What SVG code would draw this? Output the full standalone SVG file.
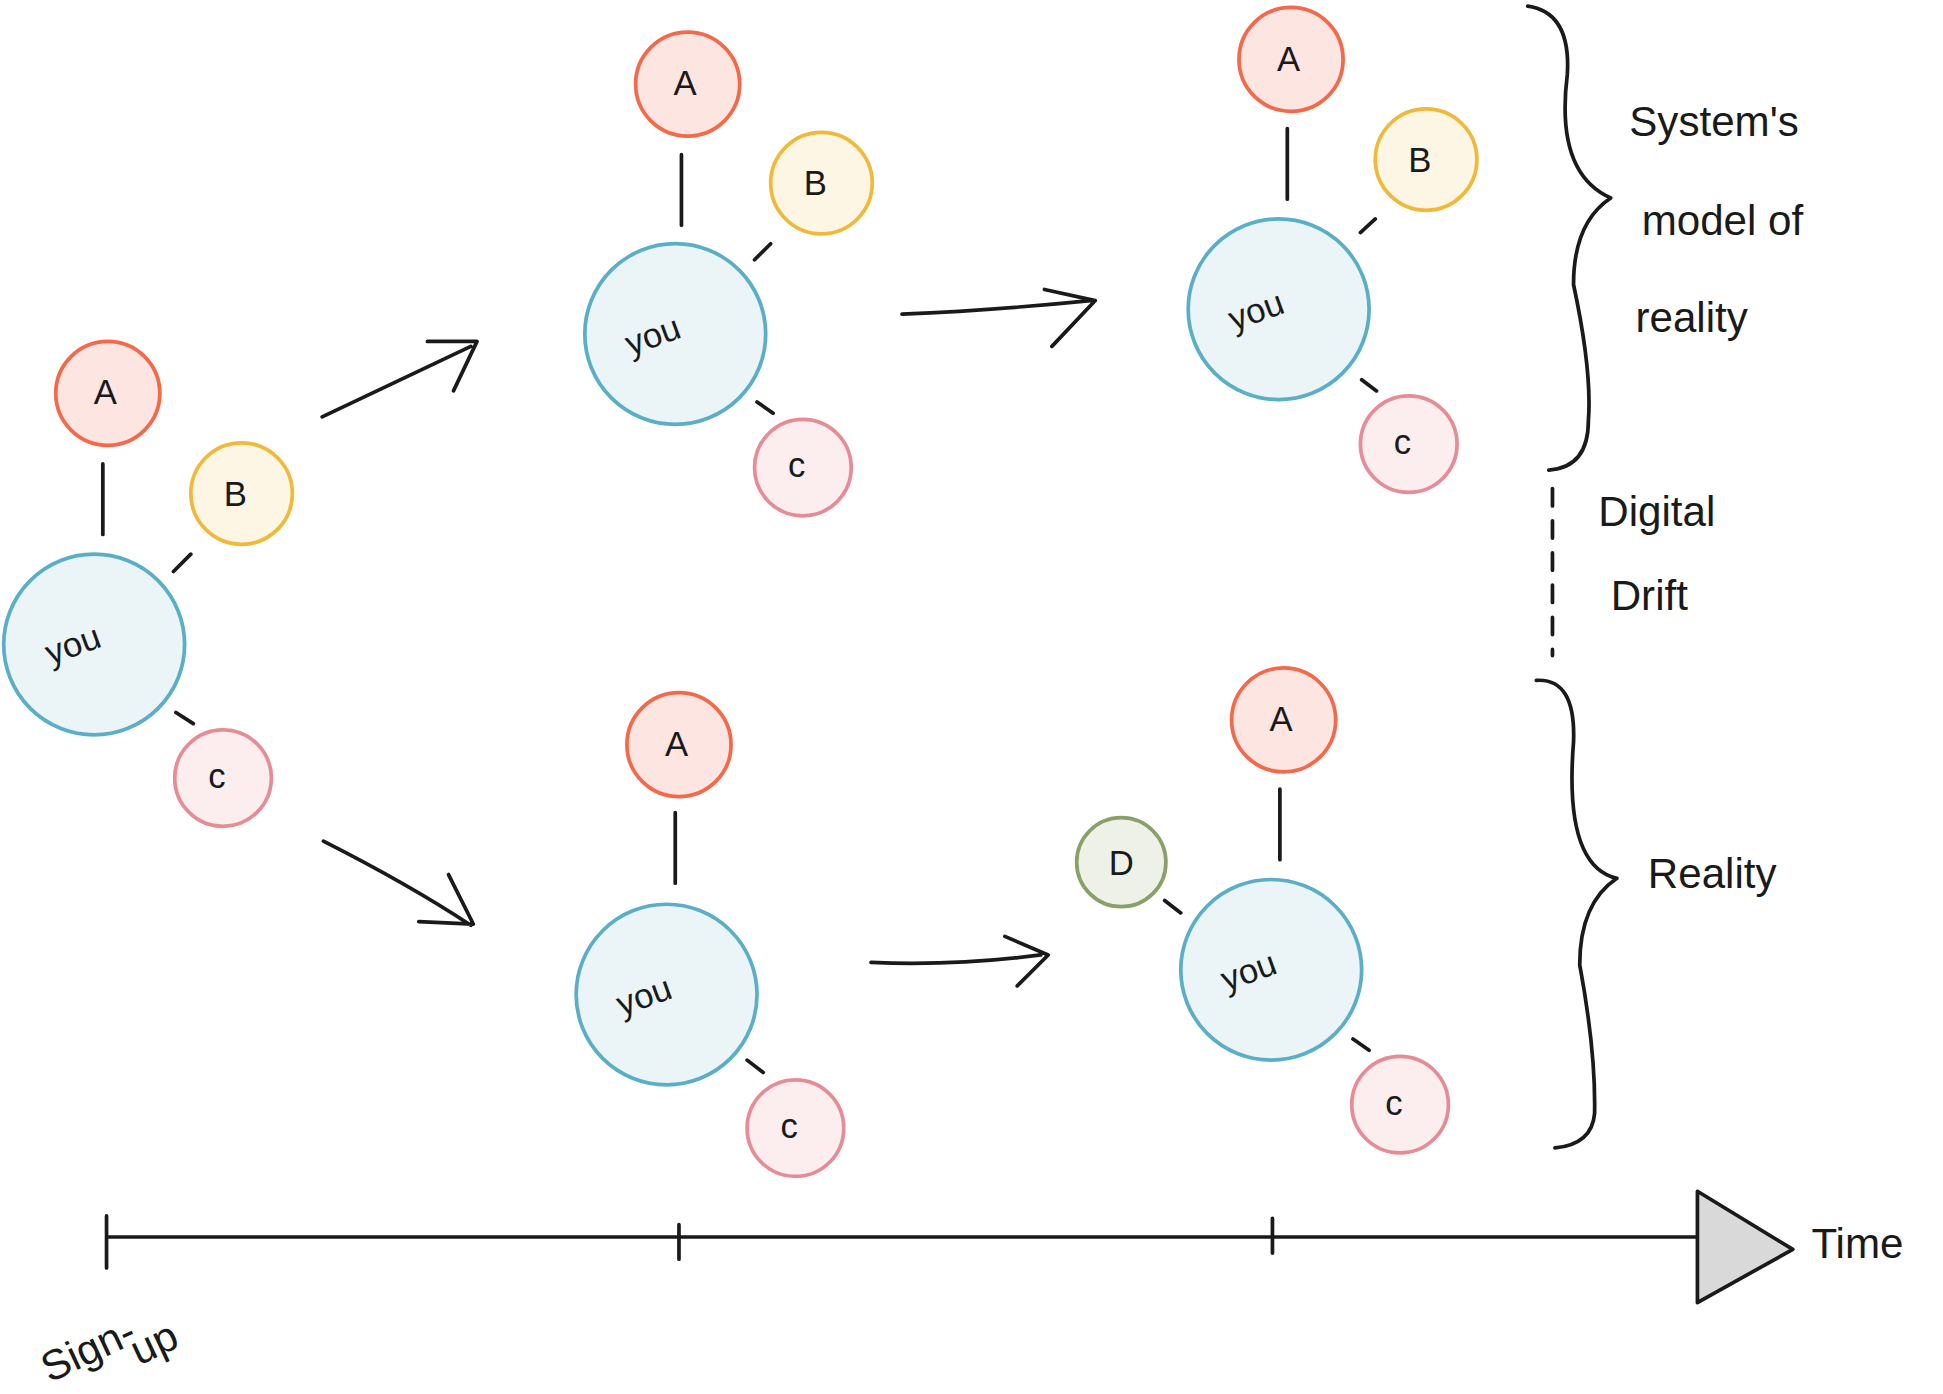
<svg xmlns="http://www.w3.org/2000/svg" width="1943" height="1394" viewBox="0 0 1943 1394">
<style>
.you{fill:#ebf4f7;stroke:#5aaec8;stroke-width:3}
.a{fill:#fde6e2;stroke:#f4694a;stroke-width:3}
.b{fill:#fdf6e4;stroke:#f0b93a;stroke-width:3}
.c{fill:#fcedee;stroke:#e58c94;stroke-width:3}
.d{fill:#eef1e8;stroke:#8aa068;stroke-width:3}
text{font-family:"Liberation Sans",Arial,sans-serif;fill:#1a1a1a}
.n{font-size:28px;text-anchor:middle}
.l{font-size:34px}
.k{stroke:#1a1a1a;stroke-width:3;fill:none;stroke-linecap:round;stroke-linejoin:round}
</style>
<rect width="1943" height="1394" fill="#fff"/>
<g transform="scale(1.239,1.237)">
<g id="connectors" class="k">
<path d="M83 375V432M140 462L154 448M142 576L156 585"/>
<path d="M550 125V182M609 210L622 197M611 325L624 334"/>
<path d="M1039 104V161M1098 188L1110 177M1099 307L1111 316"/>
<path d="M545 657V714M603 857L616 867"/>
<path d="M1033 638V695M940 728L953 738M1092 840L1105 849"/>
<path d="M260 337L380 280M345 276L385 276L366 316"/>
<path d="M728 254Q800 251 880 243M843 234L884 243L849 280"/>
<path d="M261 680Q330 715 380 748M362 707L382 747L338 745"/>
<path d="M703 778Q770 781 840 772M811 757L846 772L821 797"/>
<path d="M86 1000L1370 1000M86 983V1025M548 990V1018M1027 985V1013"/>
<path d="M1370 963L1447 1010L1370 1053Z" fill="#d9d9d9"/>
<path d="M1233 5Q1268 10 1265 60Q1255 140 1300 160Q1270 180 1270 230Q1285 300 1282 340Q1282 378 1250 380"/>
<path d="M1240 550Q1272 548 1270 600Q1262 700 1305 710Q1275 730 1275 780Q1288 850 1287 900Q1285 925 1255 928"/>
<path d="M1253 395V530" stroke-dasharray="14 12"/>
</g>
<g id="n1"><circle class="you" cx="76" cy="521" r="73"/><text class="n" x="62" y="530" transform="rotate(-20 62 530)">you</text>
<circle class="a" cx="87" cy="318" r="42"/><text class="n" x="85" y="327">A</text>
<circle class="b" cx="195" cy="399" r="41"/><text class="n" x="190" y="409">B</text>
<circle class="c" cx="180" cy="629" r="39"/><text class="n" x="175" y="637">c</text></g>
<g id="n2"><circle class="you" cx="545" cy="270" r="73"/><text class="n" x="530" y="280" transform="rotate(-20 530 280)">you</text>
<circle class="a" cx="555" cy="68" r="42"/><text class="n" x="553" y="77">A</text>
<circle class="b" cx="663" cy="148" r="41"/><text class="n" x="658" y="158">B</text>
<circle class="c" cx="648" cy="378" r="39"/><text class="n" x="643" y="386">c</text></g>
<g id="n3"><circle class="you" cx="1032" cy="250" r="73"/><text class="n" x="1017" y="260" transform="rotate(-20 1017 260)">you</text>
<circle class="a" cx="1042" cy="48" r="42"/><text class="n" x="1040" y="57">A</text>
<circle class="b" cx="1151" cy="129" r="41"/><text class="n" x="1146" y="139">B</text>
<circle class="c" cx="1137" cy="359" r="39"/><text class="n" x="1132" y="367">c</text></g>
<g id="n4"><circle class="you" cx="538" cy="804" r="73"/><text class="n" x="523" y="814" transform="rotate(-20 523 814)">you</text>
<circle class="a" cx="548" cy="602" r="42"/><text class="n" x="546" y="611">A</text>
<circle class="c" cx="642" cy="912" r="39"/><text class="n" x="637" y="920">c</text></g>
<g id="n5"><circle class="you" cx="1026" cy="784" r="73"/><text class="n" x="1011" y="794" transform="rotate(-20 1011 794)">you</text>
<circle class="a" cx="1036" cy="582" r="42"/><text class="n" x="1034" y="591">A</text>
<circle class="d" cx="905" cy="697" r="36"/><text class="n" x="905" y="707">D</text>
<circle class="c" cx="1130" cy="893" r="39"/><text class="n" x="1125" y="901">c</text></g>
<g id="labels">
<text class="l" x="1315" y="110">System's</text>
<text class="l" x="1325" y="190">model of</text>
<text class="l" x="1320" y="268">reality</text>
<text class="l" x="1290" y="425">Digital</text>
<text class="l" x="1300" y="493">Drift</text>
<text class="l" x="1330" y="718" font-size="44">Reality</text>
<text class="l" x="1462" y="1017" font-size="44">Time</text>
<text class="l" x="40" y="1118" font-size="30" transform="rotate(-25 40 1118)">Sign-</text>
<text class="l" x="112" y="1104" font-size="26" transform="rotate(-25 112 1104)">up</text>
</g>
</g>
</svg>
